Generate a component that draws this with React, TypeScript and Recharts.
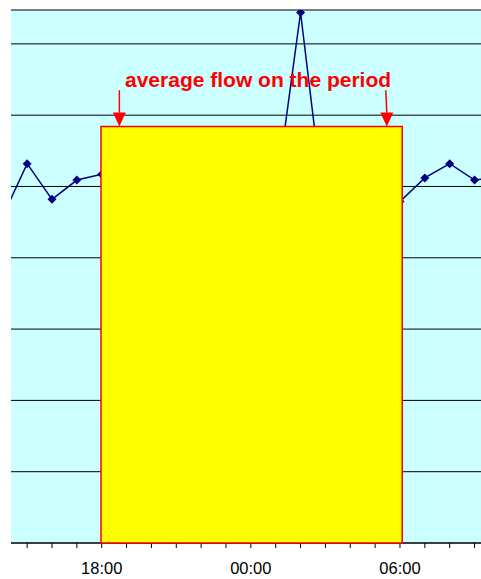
import React from "react";
import {
  ComposedChart,
  Line,
  XAxis,
  YAxis,
  CartesianGrid,
  ReferenceArea,
  ReferenceLine,
  ReferenceDot,
} from "recharts";

// hourly flow readings, 14:00 -> 10:00 next day
const HOURS = [
  "14:00", "15:00", "16:00", "17:00", "18:00", "19:00", "20:00", "21:00", "22:00", "23:00", "00:00",
  "01:00", "02:00", "03:00", "04:00", "05:00", "06:00", "07:00", "08:00", "09:00", "10:00",
];
const FLOW = [
  45.7, 53.2, 48.2, 50.9, 51.7, 50.5, 49.2, 51.0, 48.6, 50.1, 49.5,
  48.7, 74.4, 45.5, 49.8, 50.6, 47.9, 51.2, 53.2, 50.9, 51.4,
];
const START_HOUR = 14;

const X_TICKS = [15, 16, 17, 18, 19, 20, 21, 22, 23, 24, 25, 26, 27, 28, 29, 30, 31, 32, 33];
const X_LABELS: Record<number, string> = { 18: "18:00", 24: "00:00", 30: "06:00" };
const Y_TICKS = [0, 10, 20, 30, 40, 50, 60, 70];

// the averaged period
const PERIOD_START = 17.97;
const PERIOD_END = 30.09;
const PERIOD_AVG = 58.4;
const NOTE = "average flow on the period";

const data = FLOW.map((v, i) => ({ t: START_HOUR + i, label: HOURS[i], flow: v }));

const FONT = '"Liberation Sans", Arial, sans-serif';
const RED = "#FF0000";

function Diamond(props: any) {
  const { cx, cy, index } = props;
  if (cx == null || cy == null) return <g key={index} />;
  const s = 4.5;
  return (
    <path
      key={index}
      d={`M${cx},${cy - s} L${cx + s},${cy} L${cx},${cy + s} L${cx - s},${cy} Z`}
      fill="#000080"
    />
  );
}

function Arrow(props: any) {
  const { x1, y1, x2, y2 } = props;
  if (x1 == null) return null;
  const head = 14;
  return (
    <g>
      <line x1={x1} y1={y1} x2={x2} y2={y2 - head} stroke={RED} strokeWidth={1.5} />
      <path d={`M${x2 - 6.5},${y2 - head} L${x2 + 6.5},${y2 - head} L${x2},${y2} Z`} fill={RED} />
    </g>
  );
}

export default function App() {
  return (
    <div
      style={{
        position: "absolute",
        left: 0,
        top: 0,
        width: 481,
        height: 579,
        overflow: "hidden",
        background: "#fff",
      }}
    >
      <ComposedChart width={481} height={579} data={data} margin={{ top: 10, right: 0, left: 11, bottom: 0 }}>
        <CartesianGrid vertical={false} stroke="#000" fill="#CCFFFF" fillOpacity={1} />
        <XAxis
          dataKey="t"
          type="number"
          domain={[14.35, 33.26]}
          allowDataOverflow
          ticks={X_TICKS}
          interval={0}
          tickFormatter={(v: number) => X_LABELS[v] ?? ""}
          height={36}
          stroke="#000"
          tickSize={5}
          tickMargin={14}
          tick={{ fill: "#000", fontSize: 16.5, fontFamily: FONT }}
        />
        <YAxis hide domain={[0, 74.75]} ticks={Y_TICKS} allowDataOverflow />
        <Line
          dataKey="flow"
          stroke="#000080"
          strokeWidth={1.5}
          dot={Diamond}
          activeDot={false}
          isAnimationActive={false}
        />
        <ReferenceArea
          x1={PERIOD_START}
          x2={PERIOD_END}
          y1={0}
          y2={PERIOD_AVG}
          fill="#FFFF00"
          fillOpacity={1}
          stroke={RED}
          strokeWidth={1.5}
          zIndex={600}
        />
        <ReferenceLine
          segment={[{ x: 18.71, y: 63.5 }, { x: 18.71, y: PERIOD_AVG }]}
          shape={Arrow}
          zIndex={700}
        />
        <ReferenceLine
          segment={[{ x: 29.43, y: 63.5 }, { x: 29.47, y: PERIOD_AVG }]}
          shape={Arrow}
          zIndex={700}
        />
        <ReferenceDot
          x={24.29}
          y={65.0}
          r={0}
          fill="none"
          stroke="none"
          zIndex={700}
          label={{
            value: NOTE,
            position: "center",
            fill: RED,
            fontSize: 21,
            fontWeight: "bold",
            fontFamily: FONT,
          }}
        />
      </ComposedChart>
    </div>
  );
}
